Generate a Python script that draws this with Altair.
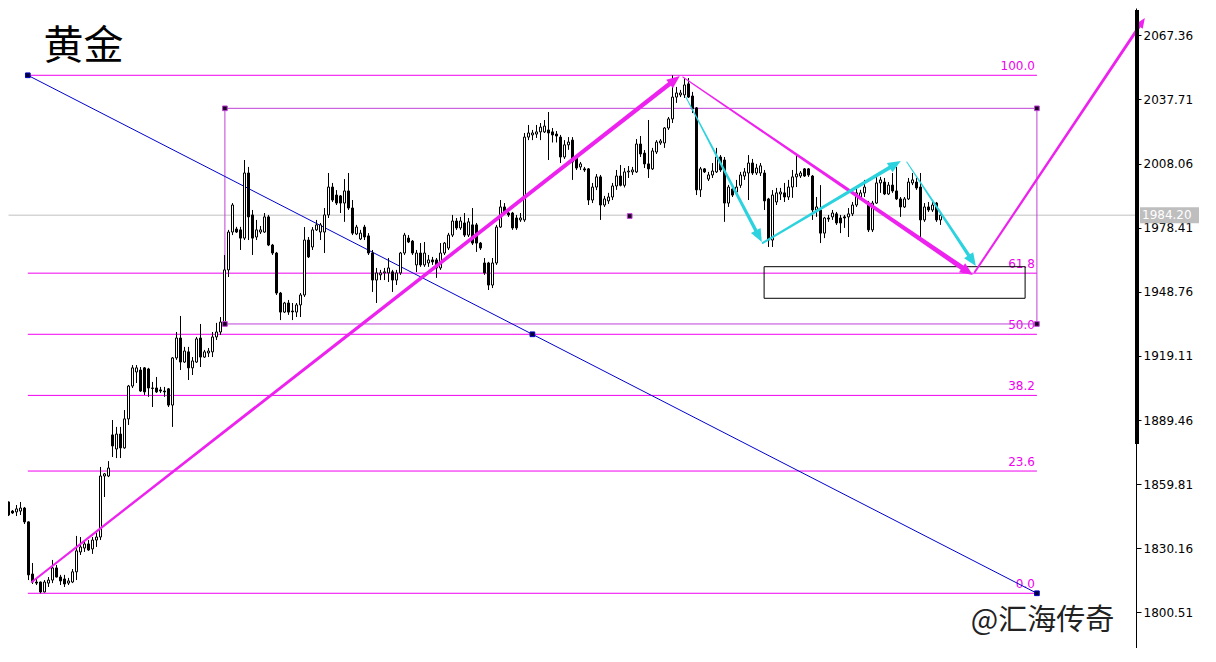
import math
import altair as alt
import pandas as pd

# ---------------- candle data (price) ----------------
opens = [1857.2,1848.4,1851.6,1847.4,1847.0,1847.4,1848.8,1842.4,1818.3,1814.6,
1814.6,1810.0,1814.1,1815.5,1821.1,1816.9,1816.0,1814.1,1814.6,1819.3,
1828.5,1830.3,1832.2,1829.9,1834.0,1835.4,1863.6,1863.6,1882.6,1876.1,
1883.0,1876.6,1890.0,1905.2,1911.7,1912.6,1913.6,1913.1,1904.3,1904.3,
1903.4,1902.9,1903.9,1896.4,1918.2,1927.4,1916.3,1921.0,1913.6,1916.3,
1927.4,1918.6,1920.5,1921.0,1927.9,1930.2,1934.8,1958.9,1976.4,1977.8,
1977.4,1973.6,2003.7,1984.3,1974.1,1976.4,1976.4,1983.4,1970.4,1966.7,
1948.2,1939.4,1943.6,1939.9,1939.4,1942.7,1947.3,1972.7,1969.5,1977.4,
1976.4,1976.4,1984.3,1997.2,1993.5,1993.1,1989.8,1995.4,1987.5,1975.5,
1973.2,1978.7,1974.6,1966.7,1954.2,1956.6,1957.5,1957.5,1958.0,1954.2,
1957.5,1966.7,1973.6,1972.2,1961.2,1966.7,1961.2,1962.1,1963.5,1963.5,
1959.8,1966.7,1969.0,1975.0,1981.5,1978.3,1980.6,1975.0,1979.7,1979.7,
1971.3,1962.1,1962.1,1951.9,1962.1,1978.7,1988.0,1985.2,1985.2,1982.9,
1982.0,1982.0,2020.3,2021.3,2021.7,2022.7,2022.7,2023.6,2022.7,2021.7,
2020.3,2011.1,2016.7,2018.9,2010.6,2006.5,2005.6,2005.6,1991.2,1997.2,
2001.9,1988.9,1990.8,1992.6,1997.7,2002.3,1998.0,2004.2,2004.2,2004.2,
2017.1,2012.9,2007.9,2005.6,2013.4,2017.6,2017.6,2024.5,2028.7,2038.8,
2039.8,2039.8,2044.9,2039.3,2033.8,1995.9,2005.6,2000.9,2002.8,2004.2,
2011.1,2009.7,1989.8,1996.3,1994.9,1998.0,2002.3,2003.7,2008.3,2003.7,
2003.7,2003.7,1991.7,1972.7,1990.3,1994.0,1994.5,1992.6,1997.2,2001.9,
2002.3,2005.6,2005.6,2002.3,1986.6,1986.6,1975.9,1982.9,1983.4,1984.8,
1982.9,1983.4,1983.4,1984.8,1988.9,1992.6,1994.5,1989.8,1977.4,1989.8,
1999.1,1999.5,1994.0,1998.1,1995.4,1991.7,1988.0,1991.7,1999.1,1999.5,
1997.2,1982.0,1988.0,1986.6,1989.8,1982.0]
highs = [1858.1,1853.9,1851.8,1847.9,1850.2,1851.6,1849.3,1842.6,1823.4,1816.5,
1814.8,1815.5,1816.9,1824.8,1822.5,1817.9,1817.9,1816.5,1820.6,1835.9,
1835.4,1834.0,1834.0,1835.4,1837.3,1867.8,1865.0,1870.5,1889.5,1886.3,
1886.3,1894.1,1905.7,1914.9,1914.9,1914.0,1914.0,1913.6,1907.1,1909.4,
1904.8,1904.8,1904.3,1918.6,1930.2,1937.6,1923.3,1923.3,1918.6,1927.9,
1933.9,1921.9,1922.8,1930.2,1934.4,1937.1,1965.8,1977.4,1989.8,1978.8,
1978.8,2009.7,2006.5,1986.6,1982.0,1979.2,1985.2,1984.3,1970.9,1967.2,
1948.7,1944.1,1945.0,1943.6,1943.6,1948.2,1978.7,1974.1,1978.7,1982.0,
1980.6,1987.5,2003.7,1999.1,1995.8,1993.5,2000.9,2003.7,1991.2,1979.7,
1977.4,1979.7,1975.9,1968.1,1959.8,1958.9,1959.8,1964.4,1958.9,1958.9,
1967.2,1976.0,1975.0,1972.7,1968.1,1971.3,1971.8,1965.8,1964.9,1964.4,
1971.3,1971.8,1976.0,1984.3,1982.9,1983.4,1985.2,1982.9,1987.5,1980.6,
1971.8,1964.4,1962.6,1964.4,1979.7,1991.2,1989.8,1986.6,1985.7,1984.3,
1985.2,2022.2,2025.9,2023.6,2025.9,2026.8,2028.2,2031.9,2024.5,2023.1,
2021.3,2018.9,2020.3,2020.3,2011.5,2008.8,2006.5,2006.0,1999.1,2003.2,
2002.8,1993.1,1994.5,1999.1,2005.1,2007.4,2006.0,2006.9,2006.5,2019.4,
2020.8,2014.3,2028.2,2015.3,2018.9,2019.4,2024.9,2029.6,2048.9,2043.5,
2042.1,2047.6,2047.6,2041.2,2034.2,2006.5,2006.0,2004.2,2008.3,2015.3,
2012.0,2011.1,1998.2,1997.2,2000.5,2004.2,2006.0,2012.0,2010.2,2007.9,
2008.3,2005.1,1992.2,1995.8,1996.8,1996.8,1999.1,2000.5,2005.1,2012.0,
2004.6,2006.0,2006.0,2002.8,1992.6,1998.1,1983.4,1984.3,1986.6,1985.7,
1984.3,1984.3,1987.5,1990.3,1997.2,1995.9,2000.5,1990.8,1990.8,2001.9,
2001.9,2001.4,1999.5,2003.7,2006.5,1992.6,1992.6,2001.4,2003.7,2001.4,
2003.7,1989.8,1990.3,1991.2,1990.3,1985.7]
lows = [1845.6,1846.1,1845.1,1846.1,1845.1,1845.6,1841.4,1815.5,1813.7,1813.2,
1809.4,1809.8,1812.3,1814.1,1816.7,1813.2,1812.3,1813.2,1814.1,1815.5,
1827.1,1828.5,1829.0,1827.6,1830.8,1834.0,1853.9,1863.1,1872.4,1871.9,
1871.9,1876.2,1887.2,1904.3,1906.6,1902.5,1901.1,1900.2,1895.5,1902.0,
1902.0,1900.2,1895.5,1886.3,1917.3,1912.6,1915.9,1908.0,1910.3,1915.9,
1914.0,1918.2,1918.6,1918.6,1926.5,1928.8,1933.9,1955.6,1975.0,1976.0,
1968.1,1972.7,1972.7,1965.8,1972.7,1975.5,1976.0,1969.9,1965.8,1947.3,
1935.7,1939.0,1938.1,1935.7,1937.1,1937.1,1946.4,1964.4,1968.1,1976.9,
1972.7,1966.7,1982.9,1990.3,1988.9,1985.2,1981.1,1986.6,1975.0,1975.0,
1972.7,1972.7,1965.8,1948.7,1943.6,1954.2,1954.2,1953.3,1948.7,1951.9,
1956.6,1965.8,1971.3,1965.8,1957.9,1960.3,1960.3,1960.3,1961.2,1955.2,
1958.9,1965.8,1968.1,1974.1,1977.4,1977.4,1974.1,1974.1,1970.4,1967.2,
1968.1,1956.6,1949.6,1950.5,1961.2,1978.3,1984.3,1983.4,1977.4,1977.4,
1981.1,1981.1,2018.9,2018.9,2019.9,2018.9,2022.2,2009.7,2017.8,2017.8,
2008.3,2010.2,2014.4,2000.5,2005.1,2005.1,2004.2,1988.9,1989.8,1995.8,
1982.0,1988.0,1989.4,1991.2,1995.9,1997.5,1997.0,2001.4,2002.8,2003.7,
2011.1,2006.0,2001.4,2005.1,2012.5,2016.7,2015.3,2023.6,2026.8,2036.1,
2038.8,2038.4,2038.4,2031.4,1993.5,1992.6,2003.7,2000.0,2001.4,2003.7,
2004.2,1981.1,1988.0,1992.6,1994.0,1996.8,2000.5,1991.2,2002.8,2002.8,
2002.3,1986.6,1969.5,1969.5,1988.9,1991.2,1990.3,1991.2,1992.2,1997.2,
2001.4,2001.9,2001.9,1982.0,1983.4,1971.3,1973.6,1981.1,1982.0,1979.7,
1975.9,1978.3,1974.1,1983.8,1988.0,1992.2,1992.6,1976.4,1976.4,1989.4,
1994.5,1993.5,1993.5,1994.5,1991.2,1983.4,1987.5,1991.2,1998.1,1995.9,
1974.1,1981.1,1985.7,1985.7,1981.1,1979.7]
closes = [1847.9,1851.6,1845.6,1846.5,1848.4,1848.8,1842.4,1817.9,1814.6,1814.1,
1810.0,1814.6,1815.5,1821.1,1816.9,1815.1,1813.7,1815.1,1819.3,1829.0,
1830.8,1832.2,1829.4,1834.0,1835.4,1863.6,1864.6,1867.3,1877.5,1883.0,
1876.6,1890.0,1905.2,1913.6,1913.6,1902.9,1902.5,1904.3,1904.1,1902.5,
1902.9,1902.5,1896.4,1918.2,1927.4,1916.3,1921.4,1913.6,1916.8,1927.0,
1918.6,1921.0,1921.4,1927.9,1930.2,1934.8,1958.9,1976.4,1988.9,1976.4,
1973.6,2003.7,1983.4,1973.6,1977.4,1977.4,1983.4,1970.4,1966.7,1948.2,
1939.4,1943.6,1939.4,1939.5,1942.7,1947.3,1972.7,1964.9,1977.4,1979.7,
1979.7,1984.3,1997.2,1991.2,1989.8,1989.8,1995.4,1987.5,1975.9,1978.7,
1975.9,1974.1,1966.7,1954.2,1957.5,1957.5,1958.0,1959.8,1954.2,1957.5,
1966.7,1975.0,1971.8,1966.7,1966.7,1961.2,1966.7,1963.5,1962.6,1959.8,
1966.7,1971.3,1975.0,1981.5,1978.3,1981.5,1975.0,1981.1,1971.3,1971.3,
1969.0,1957.5,1951.9,1962.1,1978.7,1988.0,1985.2,1984.3,1978.3,1978.3,
1982.9,2020.3,2022.2,2022.2,2022.7,2024.9,2025.4,2022.2,2021.3,2020.8,
2011.1,2016.7,2018.0,2008.8,2006.0,2007.9,2005.1,1991.2,1997.2,2001.9,
1988.9,1991.7,1992.6,1997.7,2002.3,1998.0,2004.2,2004.6,2005.1,2017.1,
2012.5,2007.9,2005.6,2013.9,2018.0,2018.5,2024.5,2028.7,2038.8,2040.7,
2040.7,2044.4,2038.8,2033.3,1995.9,2005.6,2004.2,2002.8,2004.6,2011.1,
2005.1,1989.8,1997.2,1993.5,1997.2,2002.8,2004.2,2008.3,2003.7,2006.0,
2007.0,1990.8,1972.7,1993.5,1994.5,1994.9,1992.6,1997.2,2001.9,2003.2,
2003.7,2002.3,2002.8,1986.6,1988.0,1975.9,1982.9,1982.4,1985.2,1980.6,
1980.6,1982.9,1984.8,1988.9,1994.5,1994.5,1997.2,1977.4,1989.8,1999.1,
2000.5,1994.0,1998.1,1995.4,1991.7,1988.0,1991.7,1999.5,2000.5,1996.8,
1982.0,1988.0,1986.6,1988.9,1982.0,1984.2]

# ---------------- annotation data (bar index, price) ----------------
y_ticks = [1800.51, 1830.16, 1859.81, 1889.46, 1919.11, 1948.76, 1978.41, 2008.06, 2037.71, 2067.36]
last_price = 1984.20
fib_names = ["0.0", "23.6", "38.2", "50.0", "61.8", "100.0"]
fib_ratios = [0.0, 0.236, 0.382, 0.5, 0.618, 1.0]
fib_low, fib_high = 1809.39, 2048.87
fib_k = [6.83, 259.1]
box_k = [56.1, 259.1]
box_p = [1933.9, 2033.6]
zone_k = [190.9, 256.15]
zone_p = [1945.77, 1960.38]
blue_k = [6.83, 132.97, 259.1]
blue_p = [2048.87, 1929.13, 1809.39]
extra_k, extra_p = [157.3], [1983.8]
thick_axis_p = [2079.0, 1878.4]

arrow_color = ["#EE22EE", "#EE22EE", "#EE22EE", "#2CD3DE", "#2CD3DE", "#2CD3DE"]
arrow_k0 = [7.83, 170.58, 243.58, 171.33, 190.58, 226.58]
arrow_p0 = [1814.62, 2048.08, 1957.93, 2038.84, 1971.34, 2008.79]
arrow_k1 = [169.83, 243.08, 286.08, 190.33, 225.08, 243.83]
arrow_p1 = [2048.55, 1956.55, 2075.36, 1971.80, 2009.25, 1960.71]
arrow_w0 = [2.0, 1.0, 2.0, 1.0, 2.0, 1.0]
arrow_w1 = [4.5, 5.0, 3.0, 3.5, 4.0, 3.5]
arrow_head = [13, 13, 10, 13, 13, 13]

# ---------------- layout ----------------
W, H = 1128, 640
K_MIN, K_MAX = 1.875, 283.875
P_MIN, P_MAX = 1784.09, 2079.98
PX_K = W / (K_MAX - K_MIN)
PX_P = H / (P_MAX - P_MIN)

xs = alt.Scale(domain=[K_MIN, K_MAX], nice=False, zero=False, padding=0)
ys = alt.Scale(domain=[P_MIN, P_MAX], nice=False, zero=False, padding=0)

AXIS = alt.Axis(
    orient="right", values=y_ticks, format=".2f", title=None, grid=False,
    domainColor="black", domainWidth=1, tickColor="black", tickSize=5,
    labelColor="black", labelFont="DejaVu Sans", labelFontSize=12, labelPadding=2,
)

MAG = "#F000F0"
PURPLE = "#C040D8"
BLUE = "#0000CC"


def X(f):
    return alt.X(f, type="quantitative", scale=xs, axis=None)


def Y(f):
    return alt.Y(f, type="quantitative", scale=ys, axis=AXIS)


n = len(opens)
candles = pd.DataFrame({
    "k": list(range(n)), "o": opens, "h": highs, "l": lows, "c": closes,
})
candles["fill"] = ["white" if c > o else "black" for o, c in zip(opens, closes)]

fib = pd.DataFrame({
    "name": fib_names,
    "p": [fib_low + r * (fib_high - fib_low) for r in fib_ratios],
    "k0": fib_k[0], "k1": fib_k[1], "kl": fib_k[1] - 0.5,
})

# arrows: shaft (trail) + head
trail_rows, head_rows = [], []
for i in range(len(arrow_k0)):
    k0, p0, k1, p1 = arrow_k0[i], arrow_p0[i], arrow_k1[i], arrow_p1[i]
    dx = (k1 - k0) * PX_K
    dy = -(p1 - p0) * PX_P
    ln = math.hypot(dx, dy)
    ux, uy = dx / ln, dy / ln
    back = arrow_head[i] * 0.7
    ke = k1 - back * ux / PX_K
    pe = p1 + back * uy / PX_P
    trail_rows.append({"id": i, "o": 0, "k": k0, "p": p0, "w": arrow_w0[i], "col": arrow_color[i]})
    trail_rows.append({"id": i, "o": 1, "k": ke, "p": pe, "w": arrow_w1[i], "col": arrow_color[i]})
    ang = math.degrees(math.atan2(dx, -dy)) % 360
    head_rows.append({"k": k1, "p": p1, "ang": ang, "sz": (2 * arrow_head[i]) ** 2, "col": arrow_color[i]})
trails = pd.DataFrame(trail_rows)
heads = pd.DataFrame(head_rows)

HEAD_PATH = "M0,0L-0.42,1L0.42,1Z"

layers = []

# current price line
layers.append(
    alt.Chart(pd.DataFrame({"p": [last_price]})).mark_rule(color="#C0C0C0", strokeWidth=1).encode(
        x=alt.value(0.5), x2=alt.value(W), y=Y("p:Q")
    )
)

# fibonacci levels
layers.append(
    alt.Chart(fib).mark_rule(color=MAG, strokeWidth=1).encode(x=X("k0"), x2="k1", y=Y("p"))
)
layers.append(
    alt.Chart(fib).mark_text(color=MAG, align="right", baseline="bottom", dy=-2,
                             font="DejaVu Sans", fontSize=12).encode(x=X("kl"), y=Y("p"), text="name:N")
)

# purple frame
layers.append(
    alt.Chart(pd.DataFrame({"k0": [box_k[0]], "k1": [box_k[1]], "p0": [box_p[0]], "p1": [box_p[1]]}))
    .mark_rect(fillOpacity=0, stroke=PURPLE, strokeWidth=1)
    .encode(x=X("k0"), x2="k1", y=Y("p0"), y2="p1")
)

# blue diagonal
layers.append(
    alt.Chart(pd.DataFrame({"k": blue_k, "p": blue_p})).mark_line(color=BLUE, strokeWidth=1)
    .encode(x=X("k"), y=Y("p"))
)

# black target zone
layers.append(
    alt.Chart(pd.DataFrame({"k0": [zone_k[0]], "k1": [zone_k[1]], "p0": [zone_p[0]], "p1": [zone_p[1]]}))
    .mark_rect(fillOpacity=0, stroke="black", strokeWidth=1)
    .encode(x=X("k0"), x2="k1", y=Y("p0"), y2="p1")
)

# candles
layers.append(
    alt.Chart(candles).mark_rule(color="black", strokeWidth=1, clip=True)
    .encode(x=X("k"), y=Y("l"), y2="h")
)
layers.append(
    alt.Chart(candles).mark_bar(size=2, stroke="black", strokeWidth=1, clip=True)
    .encode(x=X("k"), y=Y("o"), y2="c", fill=alt.Fill("fill:N", scale=None))
)

# arrows
layers.append(
    alt.Chart(trails).mark_trail()
    .encode(x=X("k"), y=Y("p"), size=alt.Size("w:Q", scale=None, legend=None),
            color=alt.Color("col:N", scale=None), detail="id:N", order="o:Q")
)
layers.append(
    alt.Chart(heads).mark_point(shape=HEAD_PATH, filled=True, opacity=1, strokeWidth=0)
    .encode(x=X("k"), y=Y("p"), angle=alt.Angle("ang:Q", scale=None),
            size=alt.Size("sz:Q", scale=None, legend=None), color=alt.Color("col:N", scale=None))
)

# anchor markers
purple_pts = pd.DataFrame({
    "k": [box_k[0], box_k[1], box_k[0], box_k[1]] + extra_k,
    "p": [box_p[1], box_p[1], box_p[0], box_p[0]] + extra_p,
})
layers.append(
    alt.Chart(purple_pts).mark_point(shape="square", size=22, filled=True, opacity=1,
                                     fill="#1A0020", stroke=PURPLE, strokeWidth=1)
    .encode(x=X("k"), y=Y("p"))
)
blue_pts = pd.DataFrame({"k": blue_k, "p": blue_p})
layers.append(
    alt.Chart(blue_pts).mark_point(shape="square", size=22, filled=True, opacity=1,
                                   fill="#000033", stroke=BLUE, strokeWidth=1)
    .encode(x=X("k"), y=Y("p"))
)

# thick right border segment
layers.append(
    alt.Chart(pd.DataFrame({"a": [thick_axis_p[0]], "b": [thick_axis_p[1]]}))
    .mark_rule(color="black", strokeWidth=4)
    .encode(x=alt.value(W + 1), y=Y("a"), y2="b")
)

# current price tag
tag = pd.DataFrame({"p": [last_price], "t": [f"{last_price:.2f}"]})
layers.append(
    alt.Chart(tag).mark_rule(color="#BEBEBE", strokeWidth=16)
    .encode(x=alt.value(W + 4), x2=alt.value(W + 63), y=Y("p"))
)
layers.append(
    alt.Chart(tag).mark_text(color="white", align="left", baseline="middle",
                             font="DejaVu Sans", fontSize=12)
    .encode(x=alt.value(W + 6), y=Y("p"), text="t:N")
)

# title and watermark
layers.append(
    alt.Chart(pd.DataFrame({"t": ["黄金"]})).mark_text(
        font="Noto Sans CJK SC", fontSize=40, color="black", align="center", baseline="middle")
    .encode(x=alt.value(75.5), y=alt.value(38.5), text="t:N")
)
layers.append(
    alt.Chart(pd.DataFrame({"t": ["@汇海传奇"]})).mark_text(
        font="Noto Sans CJK SC", fontSize=29, color="#222222", align="center", baseline="middle")
    .encode(x=alt.value(1034.5), y=alt.value(613), text="t:N")
)

chart = alt.layer(*layers).properties(width=W, height=H, padding=0, background="white") \
    .configure_view(strokeWidth=0)

chart.save("out.html", embed_options={"renderer": "svg", "actions": False})
